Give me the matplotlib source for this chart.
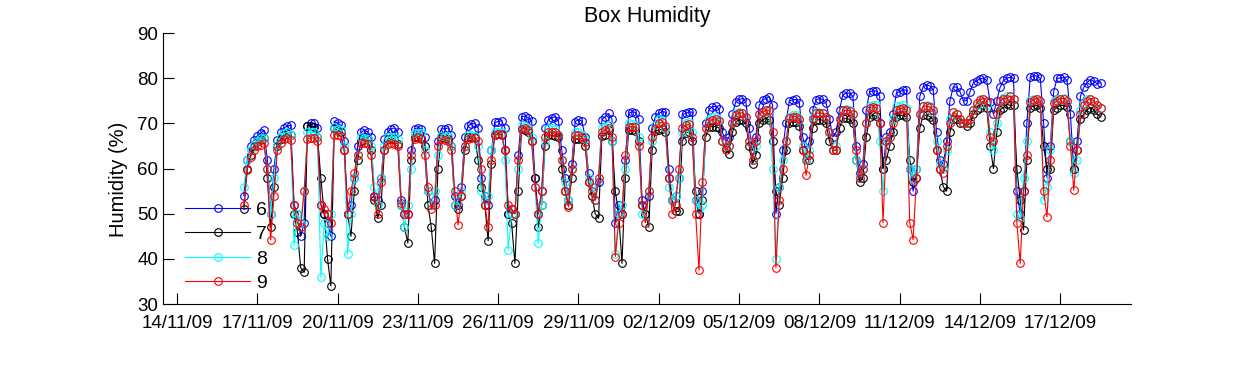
import matplotlib
matplotlib.use('Agg')
import matplotlib.pyplot as plt
import matplotlib.dates as mdates
import pandas as pd

plt.rcParams['font.family'] = ['Liberation Sans', 'DejaVu Sans']

# sensor labels and colours
labels = ['6', '7', '8', '9']
colors = ['#0000ff', '#000000', '#00ffff', '#ff0000']

# readings every 3 hours from 16/11/09 12:00 (one row per day: 00,03,...,21h)
s6 = [54, 62, 65, 66.3,
      67.2, 67.8, 68.5, 62, 50, 60, 66.3, 68,
      69, 69.4, 69.6, 52, 50, 45, 48, 69.5,
      70, 70, 69, 52, 50, 48, 45, 70.5,
      70, 69.6, 66, 50, 52, 58, 65, 68,
      68.5, 68.1, 67, 54, 53, 58, 66.5, 68.1,
      68.8, 69, 68, 53, 50, 50, 64, 68.8,
      69, 68.8, 67, 55, 52, 53, 66, 68.8,
      68.8, 69, 67.5, 54, 52, 56, 67, 69.4,
      69.9, 70, 69, 58, 54, 52, 64, 70.2,
      70.4, 70.6, 69, 50, 51, 50, 63, 71.5,
      71.6, 71.2, 70.5, 58, 50, 55, 69, 70.8,
      71.2, 71.5, 70.5, 64, 58, 53, 61, 70.4,
      70.8, 70.5, 67, 59, 56, 53, 57, 70.8,
      71.5, 72.2, 71, 48, 52, 50, 62, 72.2,
      72.6, 72.4, 71, 53, 50, 54, 69, 71.5,
      72.2, 72.6, 72.5, 60, 53, 54, 58, 72,
      72.2, 72.5, 72.5, 53, 50, 55, 70, 73,
      73.7, 73.8, 73.2, 68, 66, 67, 72, 74.8,
      75.3, 75.5, 74.8, 69, 64, 67, 74, 75.2,
      75.5, 75.9, 74, 50, 56, 64, 70, 75,
      75.2, 75.3, 74.5, 67, 64, 66, 73, 75.2,
      75.5, 75.3, 74.5, 71, 67, 68, 73, 76.3,
      76.7, 76.7, 76, 65, 59, 61, 73, 77,
      77.2, 77.2, 76, 60, 67, 68, 72, 76.7,
      77, 77.4, 77.4, 60, 55, 60, 76, 78.1,
      78.5, 78.3, 77.4, 68, 62, 61, 66, 75,
      78.1, 78, 77, 75, 75, 77, 79, 79.4,
      79.9, 80, 79.5, 74.7, 72, 75, 78, 79.5,
      80, 80.2, 80, 55, 50, 55, 70, 80.3,
      80.5, 80.5, 80, 70, 58, 65, 77, 80,
      80, 80.2, 79.5, 72, 60, 66, 76, 78,
      79, 79.7, 79.3, 78.8, 79]

s7 = [51, 60, 63, 65,
      66, 66.5, 66.8, 58, 47, 56, 65, 66.5,
      67.5, 67.8, 67.5, 50, 46, 38, 37, 69.5,
      69.5, 69.3, 67, 58, 50, 40, 34, 69,
      68.5, 68.2, 64, 50, 45, 55, 62, 66,
      67, 66.5, 64, 53, 49, 52, 64, 66.5,
      66.8, 66.6, 65.5, 52, 47, 43.5, 62, 67,
      67, 66.8, 65, 52, 47, 39, 60, 67,
      66.7, 66.5, 65, 52, 51, 54, 64, 67,
      67, 67, 62, 56, 52, 44, 61, 67.5,
      67.7, 67.5, 64, 50, 48, 39, 55, 68.8,
      68.5, 68.1, 66, 58, 47, 52, 65, 67.4,
      67.4, 67.2, 67, 60, 55, 52, 58, 66.5,
      66.5, 66.5, 65, 57, 54, 50, 49, 67.2,
      67.5, 68.5, 66, 55, 50, 39, 58, 68.5,
      68.5, 68.3, 66, 52, 50, 47, 64, 68.3,
      68.5, 68.7, 68, 58, 53, 50.5, 50.5, 66,
      67.9, 68.1, 66, 55, 50, 53, 67, 69.2,
      69.3, 69.3, 69, 66, 64.5, 63.3, 68, 70.3,
      70.8, 70.7, 70, 65, 61, 63, 70, 70.8,
      71.1, 70.8, 66, 55, 52, 58, 64, 70,
      70.4, 70.2, 69.5, 64, 62, 62, 69, 70.8,
      70.8, 70.7, 70, 66, 64, 64, 69, 71.1,
      71.1, 70.9, 70, 62, 57, 58, 67, 71.5,
      71.8, 71.6, 70, 60, 62, 65, 68, 71.5,
      71.8, 71.8, 71.5, 62, 57, 58, 69, 71.8,
      71.8, 71.5, 70.8, 64, 60, 56, 55, 68,
      71, 71, 70, 70, 69.5, 70, 72, 73,
      73.5, 74, 73.5, 65, 60, 68, 73, 73.5,
      74.2, 74, 74, 60, 53, 46.4, 62, 73.5,
      73.8, 74, 73.5, 65, 60, 60, 73, 73.5,
      74, 74, 73.7, 66, 60, 64, 71, 72,
      73, 73.5, 73, 72, 71.5]

s8 = [56, 62, 64, 65.2,
      66, 66.7, 66.8, 60, 50, 58, 65.2, 67,
      67.8, 68, 67.4, 43, 50, 48, 55, 68,
      68, 68, 67, 36, 48, 45, 50, 69.2,
      68.7, 68.5, 65, 41, 50, 58, 63, 67,
      66.7, 66.5, 65, 56, 52, 58, 65, 67,
      67, 67, 66.5, 52, 47, 52, 60, 67.8,
      67.9, 67.8, 64, 55, 52, 55, 63, 67.1,
      67, 67.1, 65, 52, 53, 55, 65, 67.4,
      67.4, 67.2, 65, 55, 53, 54, 64, 68.1,
      68.1, 68.1, 62, 42, 50, 50, 60, 69.6,
      69.4, 68.9, 67, 56, 43.5, 52, 66, 68.9,
      68.9, 68.7, 67.5, 62, 57, 53, 60, 68.1,
      68.1, 67.5, 66.5, 58, 56, 53, 58, 68.9,
      69.3, 69.6, 66, 41, 50, 52, 60, 70,
      69.9, 69.7, 67, 50, 48, 55, 66, 69.7,
      71, 70.8, 69, 56, 53, 54, 58, 68,
      70, 70.2, 68, 53, 51, 52, 69, 71,
      71.4, 71.4, 70.8, 66, 65, 65, 70, 72.3,
      72.6, 72.4, 71.5, 66, 62, 65, 72, 72.6,
      72.9, 72.8, 60, 40, 56, 62, 66, 71.5,
      71.8, 71.8, 70.8, 65, 62, 64, 71.5, 72.6,
      72.6, 72.4, 71.5, 68, 64, 65, 71, 73,
      73.2, 73, 72, 62, 58, 60, 70, 73.8,
      74.1, 74, 66, 55, 66, 67, 71, 73.8,
      73.8, 74, 73.5, 60, 58, 60, 72, 73.8,
      74, 73.8, 72.5, 66, 61, 60, 64, 71,
      72.5, 72, 71, 70, 70, 71, 73, 74,
      75.5, 75.5, 74, 68, 64, 70, 75, 75.7,
      76, 76, 75.5, 50, 49, 58, 66, 75.2,
      75.5, 75.5, 75, 53, 56, 64, 75, 75.5,
      75.5, 75.7, 75, 66, 59, 62, 73, 74.5,
      75.5, 75.5, 75, 74, 73.5]

s9 = [52, 59.7, 62.6, 64.1,
      64.9, 65.2, 65.6, 60, 44.2, 54, 64, 65.6,
      66.5, 66.7, 66.3, 52, 48, 47, 55, 66.5,
      66.8, 66.8, 66, 52, 51, 50, 48, 67.5,
      67.4, 67.1, 64, 50, 55, 59, 63, 65.7,
      65.6, 65.4, 63, 53.8, 50, 57, 64, 65.4,
      65.6, 65.4, 65, 52.3, 50, 50, 63, 66.6,
      67, 66.5, 63, 56, 51, 52, 65, 66.5,
      66.3, 66.1, 64, 55, 47.5, 54, 65, 66.5,
      66.7, 66.7, 66, 60, 52, 47, 62, 67.4,
      67.6, 67.6, 64, 52, 51, 50, 62, 68.8,
      68.9, 68.5, 66, 56, 50, 55, 67, 68.1,
      68.1, 68.1, 67.5, 62, 55, 51.5, 60, 67.4,
      67.4, 67, 65.8, 57, 55, 53, 58, 68.1,
      68.6, 69, 67, 40.5, 48, 50, 63, 69.2,
      69.3, 69.2, 65, 52, 48, 55, 67, 68.8,
      70, 70.4, 69.5, 58, 50, 52, 60, 69,
      69.6, 69.8, 67, 50, 37.5, 57, 69, 70.4,
      70.8, 71, 70.5, 66, 64, 65, 70, 71.9,
      72.3, 72.3, 71.5, 66, 62, 66, 72, 72.5,
      72.9, 72.9, 68, 38, 53, 60, 66, 71.2,
      71.5, 71.5, 71, 64, 58.5, 63, 71, 72.2,
      72.3, 72.2, 71.5, 68, 64, 64, 71, 72.9,
      72.9, 72.8, 72, 64, 58, 60, 70, 73.5,
      73.7, 73.5, 70, 48, 66, 67, 70, 73,
      73.2, 73.5, 72.9, 48, 44.2, 58, 72, 73.8,
      73.8, 73.6, 72.9, 64, 60, 59, 65, 70,
      72.5, 72, 71, 70, 70, 71, 73, 74.5,
      75.2, 75.5, 75, 67, 66, 72, 75, 75.5,
      75.5, 76, 75.5, 48, 39, 55, 63, 74.8,
      75.2, 75.5, 75, 55, 49.3, 62, 74.5, 75,
      75.5, 75.5, 75, 65, 55.2, 64, 72, 74,
      75, 75.5, 75, 74, 73.5]

times = pd.date_range('2009-11-16 12:00', periods=len(s6), freq='3h')

fig = plt.figure(figsize=(12.5, 3.65), dpi=100)
ax = fig.add_axes([0.1304, 0.167, 0.7744, 0.7425])

for vals, lab, col in zip([s6, s7, s8, s9], labels, colors):
    ax.plot(times, vals, color=col, marker='o', markerfacecolor='none',
            markersize=5.5, markeredgewidth=0.8, linewidth=0.8, label=lab)

ax.set_ylim(30, 90)
ax.set_yticks(range(30, 91, 10))
ax.set_xlim(pd.Timestamp('2009-11-13 11:30'), pd.Timestamp('2009-12-19 15:20'))
ax.set_xticks(pd.date_range('2009-11-14', '2009-12-17', freq='3D'))
ax.xaxis.set_major_formatter(mdates.DateFormatter('%d/%m/%y'))

ax.spines['top'].set_visible(False)
ax.spines['right'].set_visible(False)
ax.tick_params(direction='in', length=8, labelsize=13.5)
ax.tick_params(axis='x', pad=8)

ax.set_title('Box Humidity', fontsize=15.5, pad=8)
ax.set_ylabel('Humidity (%)', fontsize=14.5)
ax.yaxis.set_label_coords(-0.036, 0.46)

ax.legend(loc='lower left', bbox_to_anchor=(0.005, -0.02), frameon=False,
          fontsize=14, handlelength=3.35, labelspacing=0.35, handletextpad=0.3)

fig.savefig('out.png', dpi=100)
